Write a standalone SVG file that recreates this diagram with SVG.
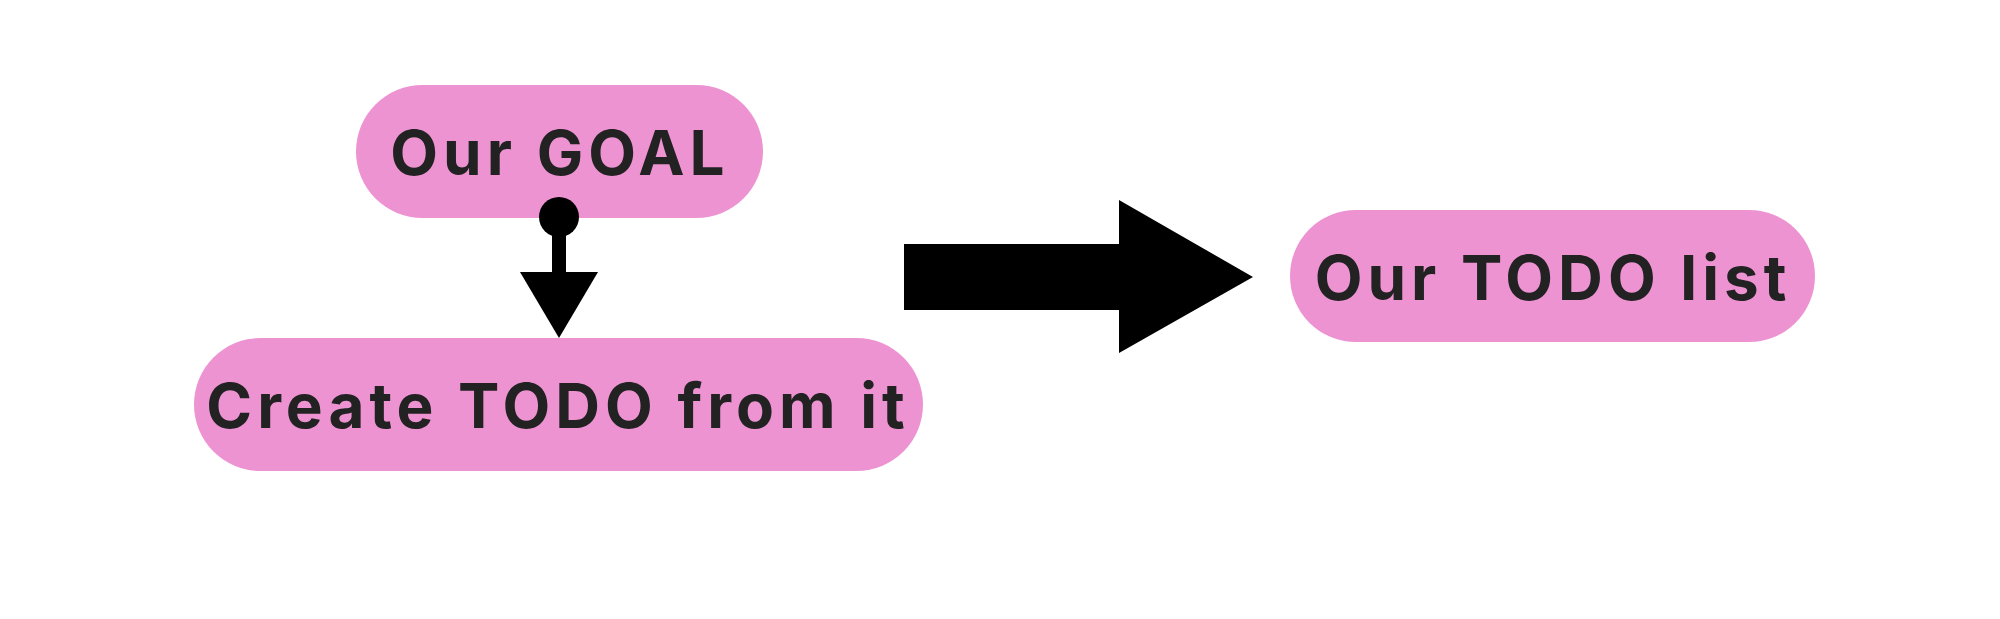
<svg xmlns="http://www.w3.org/2000/svg" width="2000" height="619" viewBox="0 0 2000 619">
<style>
.n{fill:#EE93D2}
.t{font-family:Inter,"Noto Sans",sans-serif;font-weight:700;font-size:62px;fill:#222;text-anchor:middle;dominant-baseline:central;letter-spacing:5px}
</style>
<rect width="2000" height="619" fill="#fff"/>
<g id="goal"><rect class="n" x="356" y="85" width="407" height="133" rx="66.5"/><text class="t" x="560" y="152">Our GOAL</text></g>
<g id="create"><rect class="n" x="194" y="338" width="729" height="133" rx="66.5"/><text class="t" x="558" y="405">Create TODO from it</text></g>
<g id="todo"><rect class="n" x="1290" y="210" width="525" height="132" rx="66"/><text class="t" x="1553" y="277">Our TODO list</text></g>
<g id="connectors">
<circle cx="559" cy="217" r="20" fill="#000"/>
<rect x="552" y="217" width="14" height="56" fill="#000"/>
<polygon points="520,272 598,272 559,338" fill="#000"/>
<polygon points="904,244 1119,244 1119,200 1253,277 1119,353 1119,310 904,310" fill="#000"/>
</g>
</svg>
